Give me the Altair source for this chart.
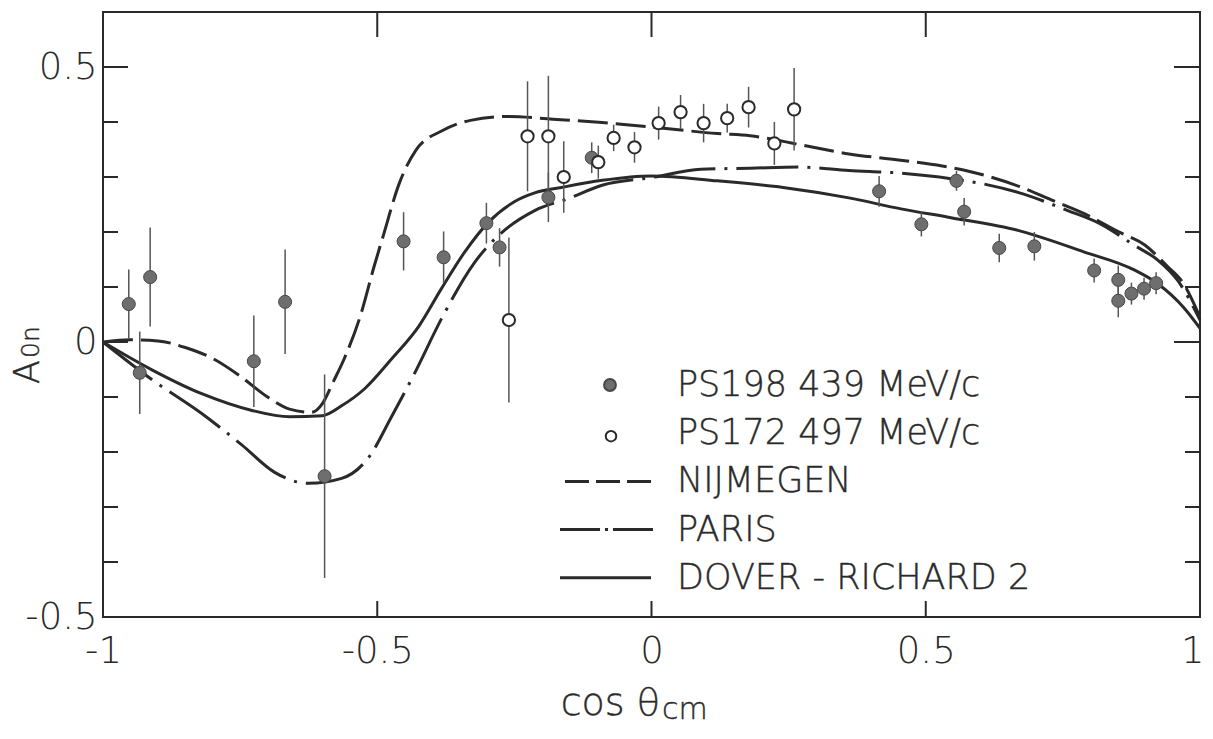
import altair as alt
import pandas as pd

# ---------------- data ----------------
# PS198 439 MeV/c (filled circles)
ps198_x = [-0.953, -0.933, -0.914, -0.725, -0.668, -0.596, -0.452, -0.379, -0.301, -0.277,
           -0.188, -0.109, 0.415, 0.492, 0.556, 0.570, 0.634, 0.698, 0.807, 0.851,
           0.851, 0.875, 0.898, 0.920]
ps198_y = [0.069, -0.056, 0.118, -0.035, 0.073, -0.244, 0.183, 0.154, 0.216, 0.172,
           0.263, 0.335, 0.274, 0.214, 0.293, 0.237, 0.171, 0.174, 0.130, 0.113,
           0.075, 0.088, 0.097, 0.107]
ps198_err = [0.063, 0.075, 0.090, 0.083, 0.095, 0.185, 0.053, 0.047, 0.037, 0.035,
             0.045, 0.028, 0.028, 0.022, 0.018, 0.025, 0.026, 0.026, 0.022, 0.026,
             0.030, 0.020, 0.020, 0.020]

# PS172 497 MeV/c (open circles)
ps172_x = [-0.260, -0.226, -0.188, -0.160, -0.097, -0.069, -0.031, 0.013, 0.053, 0.095,
           0.138, 0.177, 0.224, 0.260]
ps172_y = [0.040, 0.374, 0.374, 0.300, 0.327, 0.371, 0.354, 0.398, 0.418, 0.398,
           0.407, 0.427, 0.361, 0.423]
ps172_err = [0.150, 0.100, 0.110, 0.065, 0.030, 0.024, 0.028, 0.030, 0.031, 0.035,
             0.026, 0.037, 0.039, 0.075]

# NIJMEGEN (dashed)
nij_x = [-1.0, -0.95, -0.9, -0.85, -0.8, -0.75, -0.7, -0.66, -0.62, -0.6, -0.58, -0.56,
         -0.53, -0.505, -0.49, -0.46, -0.43, -0.38, -0.33, -0.26, -0.18, -0.09, 0.0,
         0.12, 0.18, 0.27, 0.36, 0.45, 0.53, 0.58, 0.67, 0.73, 0.79, 0.85, 0.9, 0.94,
         0.97, 1.0]
nij_y = [0.0, 0.004, 0.002, -0.01, -0.03, -0.062, -0.1, -0.122, -0.128, -0.112, -0.072,
         -0.03, 0.05, 0.14, 0.19, 0.288, 0.348, 0.385, 0.403, 0.41, 0.405, 0.399, 0.391,
         0.379, 0.375, 0.359, 0.342, 0.331, 0.32, 0.31, 0.283, 0.258, 0.233, 0.201,
         0.176, 0.138, 0.106, 0.045]

# PARIS (dash-dot)
paris_x = [-1.0, -0.91, -0.82, -0.747, -0.687, -0.625, -0.565, -0.515, -0.474, -0.432,
           -0.383, -0.323, -0.273, -0.213, -0.151, -0.09, 0.0, 0.09, 0.18, 0.27, 0.36,
           0.455, 0.546, 0.607, 0.668, 0.759, 0.82, 0.88, 0.923, 0.96, 1.0]
paris_y = [0.0, -0.069, -0.13, -0.187, -0.237, -0.257, -0.248, -0.209, -0.136, -0.057,
           0.042, 0.144, 0.199, 0.239, 0.261, 0.285, 0.299, 0.314, 0.316, 0.318, 0.312,
           0.307, 0.297, 0.287, 0.272, 0.239, 0.214, 0.176, 0.149, 0.111, 0.04]

# DOVER - RICHARD 2 (solid)
dr_x = [-1.0, -0.91, -0.82, -0.73, -0.66, -0.6, -0.565, -0.523, -0.474, -0.424, -0.383,
        -0.341, -0.297, -0.25, -0.213, -0.164, -0.09, 0.0, 0.12, 0.24, 0.36, 0.455,
        0.546, 0.668, 0.788, 0.88, 0.923, 0.971, 1.0]
dr_y = [0.0, -0.051, -0.094, -0.124, -0.136, -0.134, -0.116, -0.085, -0.031, 0.029,
        0.097, 0.163, 0.218, 0.255, 0.271, 0.281, 0.294, 0.302, 0.293, 0.281, 0.262,
        0.242, 0.226, 0.203, 0.164, 0.131, 0.106, 0.062, 0.025]

# axes
x_label_values = [-1, -0.5, 0, 0.5, 1]
y_label_values = [-0.5, 0, 0.5]
x_tick_values = [-0.5, 0, 0.5]
y_major_ticks = [0.5, 0]
y_minor_ticks = [-0.4, -0.3, -0.2, -0.1, 0.1, 0.2, 0.3, 0.4]

legend_labels = ["PS198 439 MeV/c", "PS172 497 MeV/c", "NIJMEGEN", "PARIS",
                 "DOVER - RICHARD 2"]
x_title_main = "cos θ"
x_title_sub = "cm"
y_title_main = "A"
y_title_sub = "0n"

# ---------------- styling / layout ----------------
W, H = 1097, 605
FONT = "DejaVu Sans"
FW = 200
INK = "#2a2a2a"

xs = alt.Scale(domain=[-1, 1], nice=False, zero=False)
ys = alt.Scale(domain=[-0.5, 0.6], nice=False, zero=False)
LBL = "datum.value < 0 ? '-' + format(abs(datum.value), '') : format(datum.value, '')"
AX = alt.Axis(values=x_label_values, labelExpr=LBL, title=None, labelPadding=16,
              labelAlign={"condition": {"test": "datum.value >= 1", "value": "right"},
                          "value": "center"},
              labelOffset={"condition": {"test": "datum.value >= 1", "value": 4},
                           "value": 0})
AY = alt.Axis(values=y_label_values, labelExpr=LBL, title=None, labelPadding=6)


def X(f):
    return alt.X(f, type="quantitative", scale=xs, axis=AX)


def Y(f):
    return alt.Y(f, type="quantitative", scale=ys, axis=AY)


def curve(xv, yv, dash):
    df = pd.DataFrame({"x": xv, "y": yv})
    kw = dict(color=INK, strokeWidth=3, interpolate="monotone")
    if dash:
        kw["strokeDash"] = dash
    return alt.Chart(df).mark_line(**kw).encode(x=X("x"), y=Y("y"))


nij = curve(nij_x, nij_y, [30, 8])
paris = curve(paris_x, paris_y, [62, 9, 3, 9])
dover = curve(dr_x, dr_y, None)

d198 = pd.DataFrame({"x": ps198_x, "y": ps198_y, "e": ps198_err})
d198["lo"] = d198["y"] - d198["e"]
d198["hi"] = d198["y"] + d198["e"]
d172 = pd.DataFrame({"x": ps172_x, "y": ps172_y, "e": ps172_err})
d172["lo"] = d172["y"] - d172["e"]
d172["hi"] = d172["y"] + d172["e"]

err198 = alt.Chart(d198).mark_rule(color="#555", strokeWidth=1.5).encode(
    x=X("x"), y=Y("lo"), y2="hi")
err172 = alt.Chart(d172).mark_rule(color="#555", strokeWidth=1.5).encode(
    x=X("x"), y=Y("lo"), y2="hi")
pts198 = alt.Chart(d198).mark_point(shape="circle", filled=True, color="#6e6e6e",
                                    stroke="#474747", strokeWidth=1, size=170,
                                    opacity=1).encode(x=X("x"), y=Y("y"))
pts172 = alt.Chart(d172).mark_point(shape="circle", filled=True, color="white",
                                    stroke=INK, strokeWidth=2, size=150,
                                    opacity=1).encode(x=X("x"), y=Y("y"))

# inward ticks on all four sides
dym = pd.DataFrame({"v": y_major_ticks})
dyn = pd.DataFrame({"v": y_minor_ticks})
dxt = pd.DataFrame({"v": x_tick_values})
tk = dict(color=INK, strokeWidth=2)
ticks = [
    alt.Chart(dym).mark_rule(**tk).encode(y=Y("v"), x=alt.value(0), x2=alt.value(25)),
    alt.Chart(dyn).mark_rule(**tk).encode(y=Y("v"), x=alt.value(0), x2=alt.value(15)),
    alt.Chart(dym).mark_rule(**tk).encode(y=Y("v"), x=alt.value(W), x2=alt.value(W - 26)),
    alt.Chart(dyn).mark_rule(**tk).encode(y=Y("v"), x=alt.value(W), x2=alt.value(W - 15)),
    alt.Chart(dxt).mark_rule(**tk).encode(x=X("v"), y=alt.value(0), y2=alt.value(25)),
    alt.Chart(dxt).mark_rule(**tk).encode(x=X("v"), y=alt.value(H), y2=alt.value(H - 16)),
]

# legend (placed inside the plot area)
LEG_TEXT_X = 574
LEG_Y0 = 373
LEG_DY = 48.2
rows = [LEG_Y0 + i * LEG_DY for i in range(5)]
one = pd.DataFrame({"k": [0]})
txt = dict(font=FONT, fontWeight=FW, fontSize=35, color=INK, align="left",
           baseline="middle", stroke=INK, strokeWidth=0.4)
legend = [
    alt.Chart(one).mark_text(text=legend_labels[i], **txt).encode(
        x=alt.value(LEG_TEXT_X), y=alt.value(rows[i])) for i in range(5)
]
legend += [
    alt.Chart(one).mark_point(shape="circle", filled=True, color="#6e6e6e",
                              stroke="#474747", size=140, opacity=1).encode(
        x=alt.value(507), y=alt.value(rows[0])),
    alt.Chart(one).mark_point(shape="circle", filled=True, color="white",
                              stroke=INK, strokeWidth=2, size=110, opacity=1).encode(
        x=alt.value(508), y=alt.value(rows[1] + 3)),
    alt.Chart(one).mark_rule(color=INK, strokeWidth=3, strokeDash=[24, 7]).encode(
        x=alt.value(462), x2=alt.value(548), y=alt.value(rows[2])),
    alt.Chart(one).mark_rule(color=INK, strokeWidth=3, strokeDash=[40, 5, 3, 5]).encode(
        x=alt.value(457), x2=alt.value(550), y=alt.value(rows[3])),
    alt.Chart(one).mark_rule(color=INK, strokeWidth=3).encode(
        x=alt.value(457), x2=alt.value(548), y=alt.value(rows[4])),
]

# axis titles
tt = dict(font=FONT, fontWeight=FW, color=INK, baseline="alphabetic", stroke=INK,
          strokeWidth=0.4)
titles = [
    alt.Chart(one).mark_text(text=x_title_main, fontSize=38, align="right", **tt).encode(
        x=alt.value(557), y=alt.value(703)),
    alt.Chart(one).mark_text(text=x_title_sub, fontSize=30, align="left", **tt).encode(
        x=alt.value(559), y=alt.value(707)),
    alt.Chart(one).mark_text(text=y_title_main, fontSize=35, align="right", angle=270,
                             **tt).encode(x=alt.value(-64), y=alt.value(348)),
    alt.Chart(one).mark_text(text=y_title_sub, fontSize=25, align="left", angle=270,
                             **tt).encode(x=alt.value(-64), y=alt.value(346)),
]

chart = alt.layer(
    nij, paris, dover, err198, err172, pts198, pts172, *ticks, *legend, *titles
).properties(
    width=W, height=H,
    autosize=alt.AutoSizeParams(type="none"),
    padding={"left": 95, "top": 4, "right": 5, "bottom": 110},
).configure_view(
    stroke=INK, strokeWidth=2
).configure_axis(
    grid=False, ticks=False, domain=False, labelFont=FONT, labelFontWeight=FW,
    labelFontSize=37, labelColor=INK, labelFlush=False
)

chart.save("out.html", embed_options={"renderer": "svg", "actions": False})
